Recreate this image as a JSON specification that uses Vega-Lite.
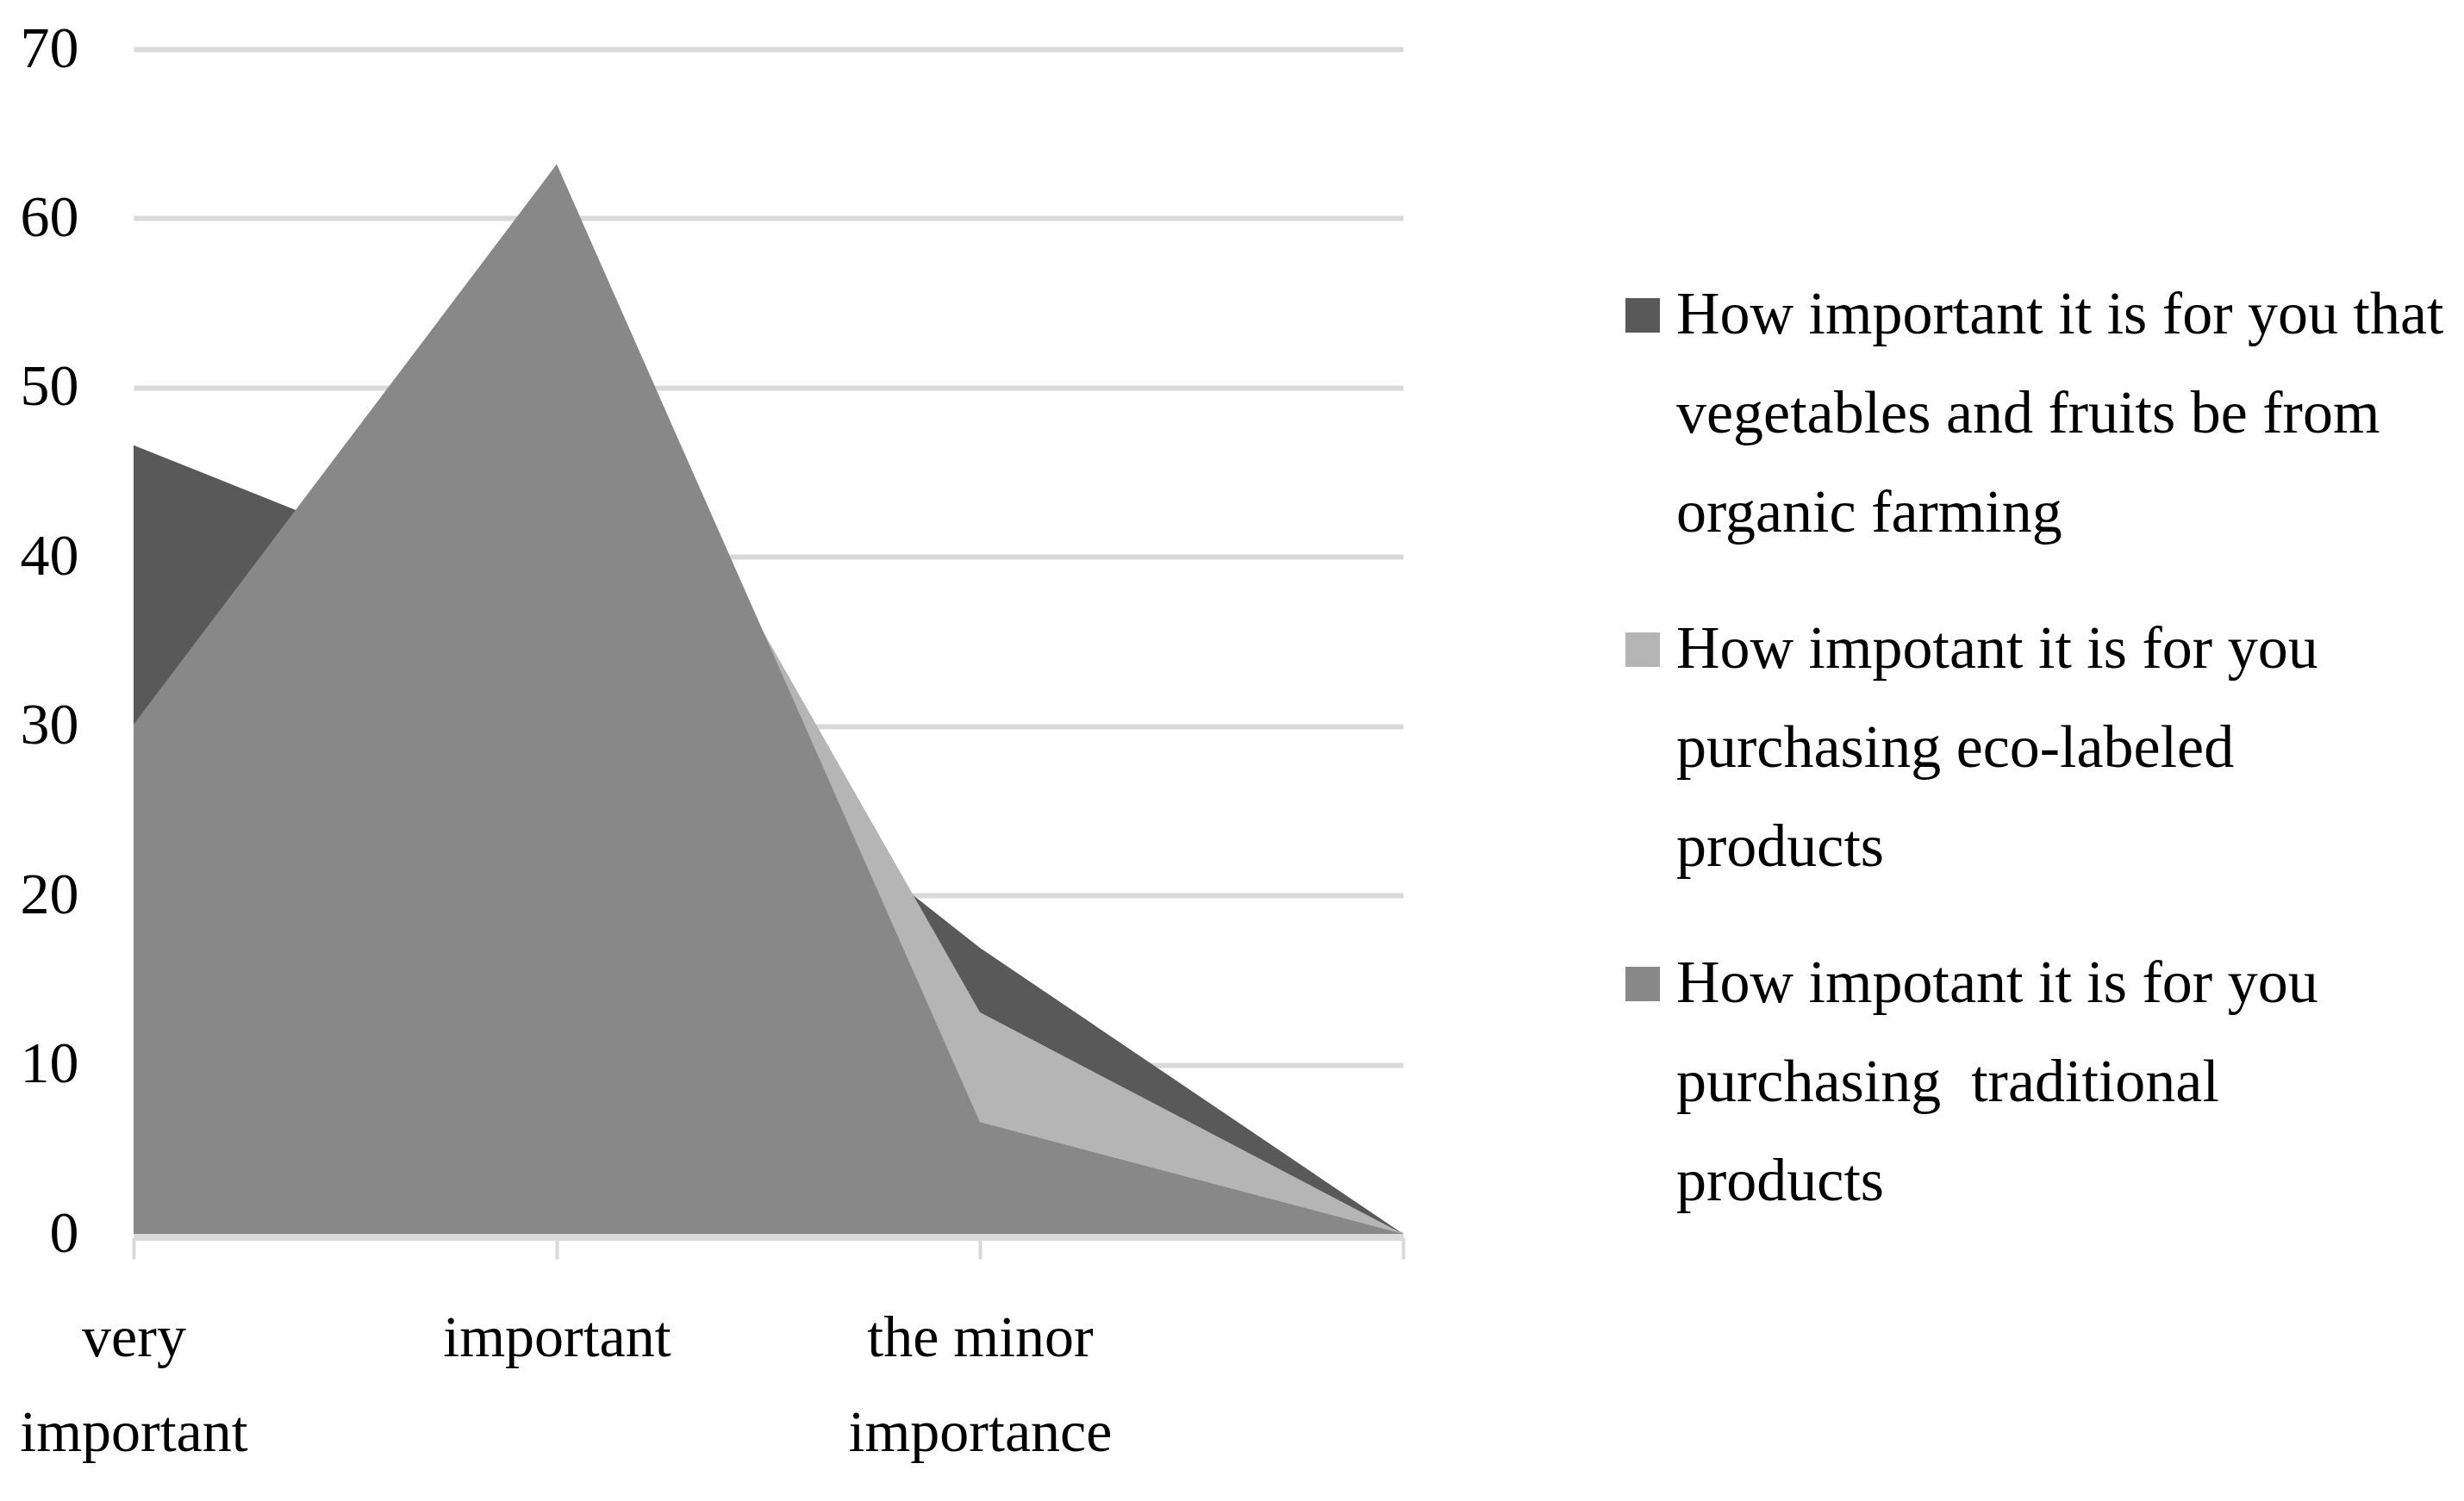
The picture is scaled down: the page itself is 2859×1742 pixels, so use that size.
{
  "$schema": "https://vega.github.io/schema/vega-lite/v6.json",
  "width": 1473,
  "height": 1375,
  "autosize": {"type": "none"},
  "padding": {"left": 155, "top": 57, "right": 1231, "bottom": 310},
  "background": "white",
  "config": {"view": {"stroke": null}, "font": "Liberation Serif"},
  "data": {
    "values": [
      {"series": "How important it is for you that vegetables and fruits be from organic farming", "level": "very important", "value": 46.6},
      {"series": "How important it is for you that vegetables and fruits be from organic farming", "level": "important", "value": 36.6},
      {"series": "How important it is for you that vegetables and fruits be from organic farming", "level": "the minor importance", "value": 16.9},
      {"series": "How important it is for you that vegetables and fruits be from organic farming", "level": "not important", "value": 0},
      {"series": "How impotant it is for you purchasing eco-labeled products", "level": "very important", "value": 30},
      {"series": "How impotant it is for you purchasing eco-labeled products", "level": "important", "value": 57},
      {"series": "How impotant it is for you purchasing eco-labeled products", "level": "the minor importance", "value": 13.1},
      {"series": "How impotant it is for you purchasing eco-labeled products", "level": "not important", "value": 0},
      {"series": "How impotant it is for you purchasing  traditional products", "level": "very important", "value": 30.1},
      {"series": "How impotant it is for you purchasing  traditional products", "level": "important", "value": 63.2},
      {"series": "How impotant it is for you purchasing  traditional products", "level": "the minor importance", "value": 6.6},
      {"series": "How impotant it is for you purchasing  traditional products", "level": "not important", "value": 0}
    ]
  },
  "encoding": {
    "x": {
      "field": "level",
      "type": "ordinal",
      "sort": ["very important", "important", "the minor importance", "not important"],
      "scale": {"type": "point", "padding": 0},
      "axis": {
        "title": null,
        "labelAngle": 0,
        "labelExpr": "datum.value == 'very important' ? ['very', 'important'] : datum.value == 'the minor importance' ? ['the minor', 'importance'] : datum.value == 'not important' ? '' : datum.value",
        "labelFont": "Liberation Serif",
        "labelFontSize": 68,
        "labelColor": "#000000",
        "labelBaseline": "top",
        "labelLineHeight": 110,
        "labelPadding": 58,
        "labelLimit": 3000,
        "labelOverlap": false,
        "tickSize": 25,
        "tickColor": "#d9d9d9",
        "tickWidth": 4,
        "domainColor": "#d9d9d9",
        "domainWidth": 7,
        "offset": 4,
        "grid": false
      }
    },
    "y": {
      "field": "value",
      "type": "quantitative",
      "scale": {"domain": [0, 70], "nice": false},
      "axis": {
        "title": null,
        "values": [0, 10, 20, 30, 40, 50, 60, 70],
        "domain": false,
        "ticks": false,
        "grid": true,
        "gridColor": "#d9d9d9",
        "gridWidth": 6,
        "labelFont": "Liberation Serif",
        "labelFontSize": 68,
        "labelColor": "#000000",
        "labelPadding": 64
      }
    },
    "color": {
      "field": "series",
      "type": "nominal",
      "scale": {
        "domain": [
          "How important it is for you that vegetables and fruits be from organic farming",
          "How impotant it is for you purchasing eco-labeled products",
          "How impotant it is for you purchasing  traditional products"
        ],
        "range": ["#595959", "#b5b5b5", "#888888"]
      },
      "legend": {
        "title": null,
        "orient": "none",
        "legendX": 1716,
        "legendY": 274,
        "padding": 0,
        "symbolType": "square",
        "symbolSize": 1600,
        "symbolStrokeWidth": 0,
        "symbolOpacity": 1,
        "labelFont": "Liberation Serif",
        "labelFontSize": 70,
        "labelColor": "#000000",
        "labelLimit": 3000,
        "labelOffset": 4,
        "labelBaseline": "middle",
        "rowPadding": 88,
        "labelExpr": "datum.value == 'How important it is for you that vegetables and fruits be from organic farming' ? ['How important it is for you that', 'vegetables and fruits be from', 'organic farming'] : datum.value == 'How impotant it is for you purchasing eco-labeled products' ? ['How impotant it is for you', 'purchasing eco-labeled', 'products'] : ['How impotant it is for you', 'purchasing\u00a0 traditional', 'products']",
        "encode": {"labels": {"update": {"lineHeight": {"value": 115}}}}
      }
    }
  },
  "layer": [
    {
      "transform": [{"filter": "datum.series == 'How important it is for you that vegetables and fruits be from organic farming'"}],
      "mark": {"type": "area", "opacity": 1, "fillOpacity": 1}
    },
    {
      "transform": [{"filter": "datum.series == 'How impotant it is for you purchasing eco-labeled products'"}],
      "mark": {"type": "area", "opacity": 1, "fillOpacity": 1}
    },
    {
      "transform": [{"filter": "datum.series == 'How impotant it is for you purchasing  traditional products'"}],
      "mark": {"type": "area", "opacity": 1, "fillOpacity": 1}
    }
  ]
}
